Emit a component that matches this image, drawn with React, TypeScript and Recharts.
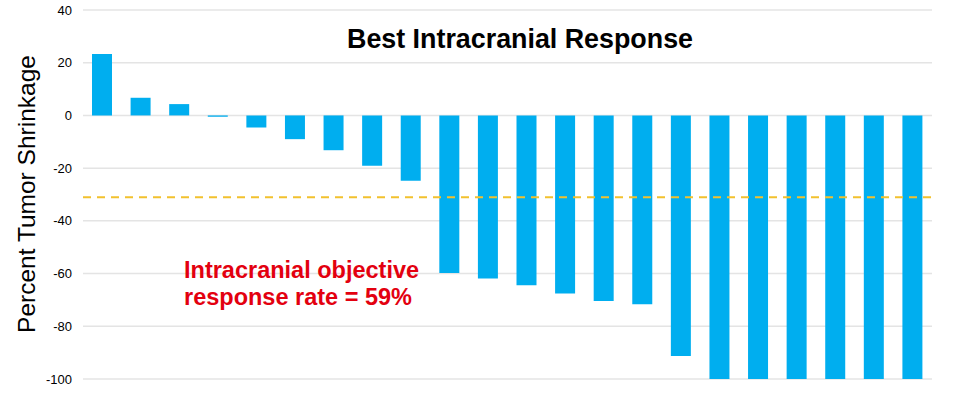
import React from 'react';
import { BarChart, Bar, XAxis, YAxis, CartesianGrid, ReferenceLine } from 'recharts';

const patients = ['P1','P2','P3','P4','P5','P6','P7','P8','P9','P10','P11','P12','P13','P14','P15','P16','P17','P18','P19','P20','P21','P22'];
const shrinkage = [23.3, 6.7, 4.3, -0.5, -4.6, -9, -13.2, -19.1, -24.8, -59.8, -61.9, -64.4, -67.6, -70.4, -71.6, -91.3, -100, -100, -100, -100, -100, -100];
const yTicks = [-100, -80, -60, -40, -20, 0, 20, 40];
const responseThreshold = -31;
const titleText = 'Best Intracranial Response';
const yAxisTitle = 'Percent Tumor Shrinkage';
const noteLines = ['Intracranial objective', 'response rate = 59%'];

const data = patients.map((p, i) => ({ patient: p, value: shrinkage[i] }));

const FONT = '"Liberation Sans", Arial, Helvetica, sans-serif';

export default function App() {
  return (
    <div style={{ position: 'absolute', left: 0, top: 0, width: 973, height: 398, background: '#fff' }}>
      <BarChart
        width={973}
        height={398}
        data={data}
        margin={{ top: 10, right: 41, bottom: 19, left: 0 }}
      >
        <CartesianGrid vertical={false} stroke="#e4e4e4" strokeWidth={1.5} />
        <XAxis dataKey="patient" hide />
        <YAxis
          width={83}
          domain={[-100, 40]}
          ticks={yTicks}
          interval={0}
          axisLine={false}
          tickLine={false}
          tickMargin={5}
          tick={{ fill: '#000', fontSize: 13, fontFamily: FONT }}
        />
        <Bar dataKey="value" fill="#00AEEF" barSize={20} isAnimationActive={false} />
        <ReferenceLine y={responseThreshold} stroke="#F2C12E" strokeWidth={2} strokeDasharray="8 6" />
      </BarChart>
      <svg width={973} height={398} style={{ position: 'absolute', left: 0, top: 0, pointerEvents: 'none' }}>
        <text x={520} y={48} textAnchor="middle" fontFamily={FONT} fontWeight="bold" fontSize={27} fill="#000" textLength={346} lengthAdjust="spacingAndGlyphs">
          {titleText}
        </text>
        <text x={35} y={194} textAnchor="middle" fontFamily={FONT} fontSize={24.5} fill="#000" transform="rotate(-90 35 194)">
          {yAxisTitle}
        </text>
        <text x={184} y={278} fontFamily={FONT} fontWeight="bold" fontSize={23.5} fill="#E3000F">
          {noteLines[0]}
        </text>
        <text x={184} y={305} fontFamily={FONT} fontWeight="bold" fontSize={23.5} fill="#E3000F">
          {noteLines[1]}
        </text>
      </svg>
    </div>
  );
}
